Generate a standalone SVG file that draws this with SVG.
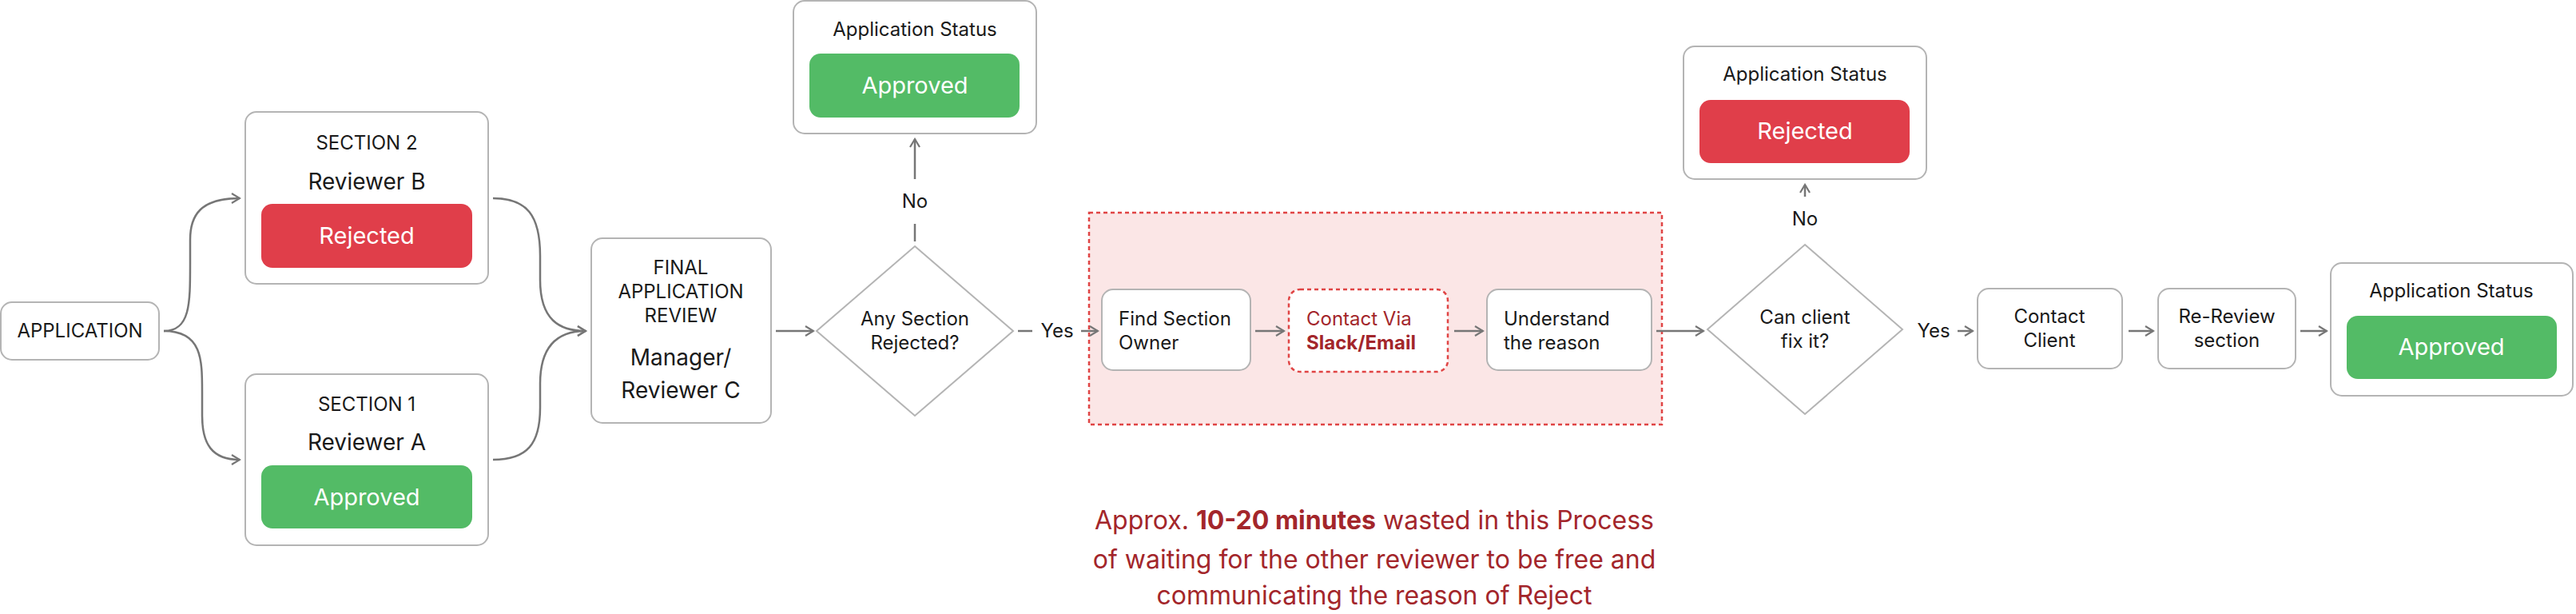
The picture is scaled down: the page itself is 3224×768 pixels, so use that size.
<svg xmlns="http://www.w3.org/2000/svg" width="3224" height="768" viewBox="0 0 3224 768">
<style>
text{font-family:Inter,"Noto Sans","Liberation Sans",sans-serif;fill:#1a1a1a}
.box{fill:#fff;stroke:#b4b4b4;stroke-width:2}
.c{text-anchor:middle}
.s23{font-size:24px}
.s27{font-size:28px}
.s22{font-size:24px}
.w{fill:#fff;font-size:29px;text-anchor:middle}
.green{fill:#53bb66}
.red{fill:#e03e4a}
.conn{fill:none;stroke:#767676;stroke-width:2.5}
.dia{fill:#fff;stroke:#b4b4b4;stroke-width:2}
.dr{fill:#a3262b}
</style>
<defs>
<marker id="arr" markerWidth="14" markerHeight="14" refX="12" refY="7" orient="auto" markerUnits="userSpaceOnUse">
<path d="M2 1 L12 7 L2 13" fill="none" stroke="#767676" stroke-width="2.2"/>
</marker>
</defs>
<rect x="1363" y="266" width="717" height="265" fill="#fbe6e6" stroke="#e04444" stroke-width="2.5" stroke-dasharray="5 4"/>
<g id="connectors">
<path class="conn" d="M205 414 C238 414 238 380 238 330 L238 300 C238 270 250 248 300 248" marker-end="url(#arr)"/>
<path class="conn" d="M205 414 C253 414 253 450 253 490 L253 520 C253 555 265 575 300 575" marker-end="url(#arr)"/>
<path class="conn" d="M617 248 C660 248 676 270 676 320 L676 350 C676 400 700 414 733 414" marker-end="url(#arr)"/>
<path class="conn" d="M617 575 C660 575 676 555 676 510 L676 480 C676 430 700 414 733 414" marker-end="url(#arr)"/>
<path class="conn" d="M971 414 L1018 414" marker-end="url(#arr)"/>
<path class="conn" d="M1145 302 L1145 280"/>
<path class="conn" d="M1145 224 L1145 174" marker-end="url(#arr)"/>
<path class="conn" d="M1274 414 L1292 414"/>
<path class="conn" d="M1353 414 L1374 414" marker-end="url(#arr)"/>
<path class="conn" d="M1571 414 L1607 414" marker-end="url(#arr)"/>
<path class="conn" d="M1820 414 L1856 414" marker-end="url(#arr)"/>
<path class="conn" d="M2073 414 L2132 414" marker-end="url(#arr)"/>
<path class="conn" d="M2259 246 L2259 231" marker-end="url(#arr)"/>
<path class="conn" d="M2450 414 L2469 414" marker-end="url(#arr)"/>
<path class="conn" d="M2664 414 L2695 414" marker-end="url(#arr)"/>
<path class="conn" d="M2879 414 L2912 414" marker-end="url(#arr)"/>
<text class="c s22" x="1145" y="260">No</text>
<text class="c s22" x="1323" y="422">Yes</text>
<text class="c s22" x="2259" y="282">No</text>
<text class="c s22" x="2420" y="422">Yes</text>
</g>
<g id="application"><rect class="box" x="1" y="378" width="198" height="72" rx="14"/><text class="c s23" x="100" y="422">APPLICATION</text></g>
<g id="section2"><rect class="box" x="307" y="140" width="304" height="215" rx="14"/><text class="c s23" x="459" y="187">SECTION 2</text><text class="c s27" x="459" y="237">Reviewer B</text><rect class="red" x="327" y="255" width="264" height="80" rx="14"/><text class="w" x="459" y="305">Rejected</text></g>
<g id="section1"><rect class="box" x="307" y="468" width="304" height="214" rx="14"/><text class="c s23" x="459" y="514">SECTION 1</text><text class="c s27" x="459" y="563">Reviewer A</text><rect class="green" x="327" y="582" width="264" height="79" rx="14"/><text class="w" x="459" y="632">Approved</text></g>
<g id="final"><rect class="box" x="740" y="298" width="225" height="231" rx="14"/><text class="c s23" x="852" y="343">FINAL</text><text class="c s23" x="852" y="373">APPLICATION</text><text class="c s23" x="852" y="403">REVIEW</text><text class="c s27" x="852" y="457">Manager/</text><text class="c s27" x="852" y="498">Reviewer C</text></g>
<g id="status1"><rect class="box" x="993" y="1" width="304" height="166" rx="14"/><text class="c s23" x="1145" y="45">Application Status</text><rect class="green" x="1013" y="67" width="263" height="80" rx="14"/><text class="w" x="1145" y="117">Approved</text></g>
<g id="decision1"><polygon class="dia" points="1145,308 1268,414 1145,520 1022,414"/><text class="c s22" x="1145" y="407">Any Section</text><text class="c s22" x="1145" y="437">Rejected?</text></g>
<g id="find"><rect class="box" x="1379" y="362" width="186" height="101" rx="14"/><text class="s22" x="1400" y="407">Find Section</text><text class="s22" x="1400" y="437">Owner</text></g>
<g id="contact"><rect x="1613" y="362" width="199" height="103" rx="14" fill="#fff" stroke="#e04444" stroke-width="2.5" stroke-dasharray="5 4"/><text class="s22 dr" x="1635" y="407">Contact Via</text><text class="s22 dr" x="1635" y="437" font-weight="bold">Slack/Email</text></g>
<g id="understand"><rect class="box" x="1861" y="362" width="206" height="101" rx="14"/><text class="s22" x="1882" y="407">Understand</text><text class="s22" x="1882" y="437">the reason</text></g>
<g id="decision2"><polygon class="dia" points="2259,306 2381,412 2259,518 2137,412"/><text class="c s22" x="2259" y="405">Can client</text><text class="c s22" x="2259" y="435">fix it?</text></g>
<g id="status2"><rect class="box" x="2107" y="58" width="304" height="166" rx="14"/><text class="c s23" x="2259" y="101">Application Status</text><rect class="red" x="2127" y="125" width="263" height="79" rx="14"/><text class="w" x="2259" y="174">Rejected</text></g>
<g id="contactclient"><rect class="box" x="2475" y="361" width="181" height="100" rx="14"/><text class="c s22" x="2565" y="404">Contact</text><text class="c s22" x="2565" y="434">Client</text></g>
<g id="rereview"><rect class="box" x="2701" y="361" width="172" height="100" rx="14"/><text class="c s22" x="2787" y="404">Re-Review</text><text class="c s22" x="2787" y="434">section</text></g>
<g id="status3"><rect class="box" x="2917" y="329" width="303" height="166" rx="14"/><text class="c s23" x="3068" y="372">Application Status</text><rect class="green" x="2937" y="395" width="263" height="79" rx="14"/><text class="w" x="3068" y="444">Approved</text></g>
<g id="note"><text class="c dr" x="1720" y="662" font-size="32">Approx. <tspan font-weight="bold" class="dr">10-20 minutes</tspan> wasted in this Process</text><text class="c dr" x="1720" y="711" font-size="32">of waiting for the other reviewer to be free and</text><text class="c dr" x="1720" y="756" font-size="32">communicating the reason of Reject</text></g>
</svg>
